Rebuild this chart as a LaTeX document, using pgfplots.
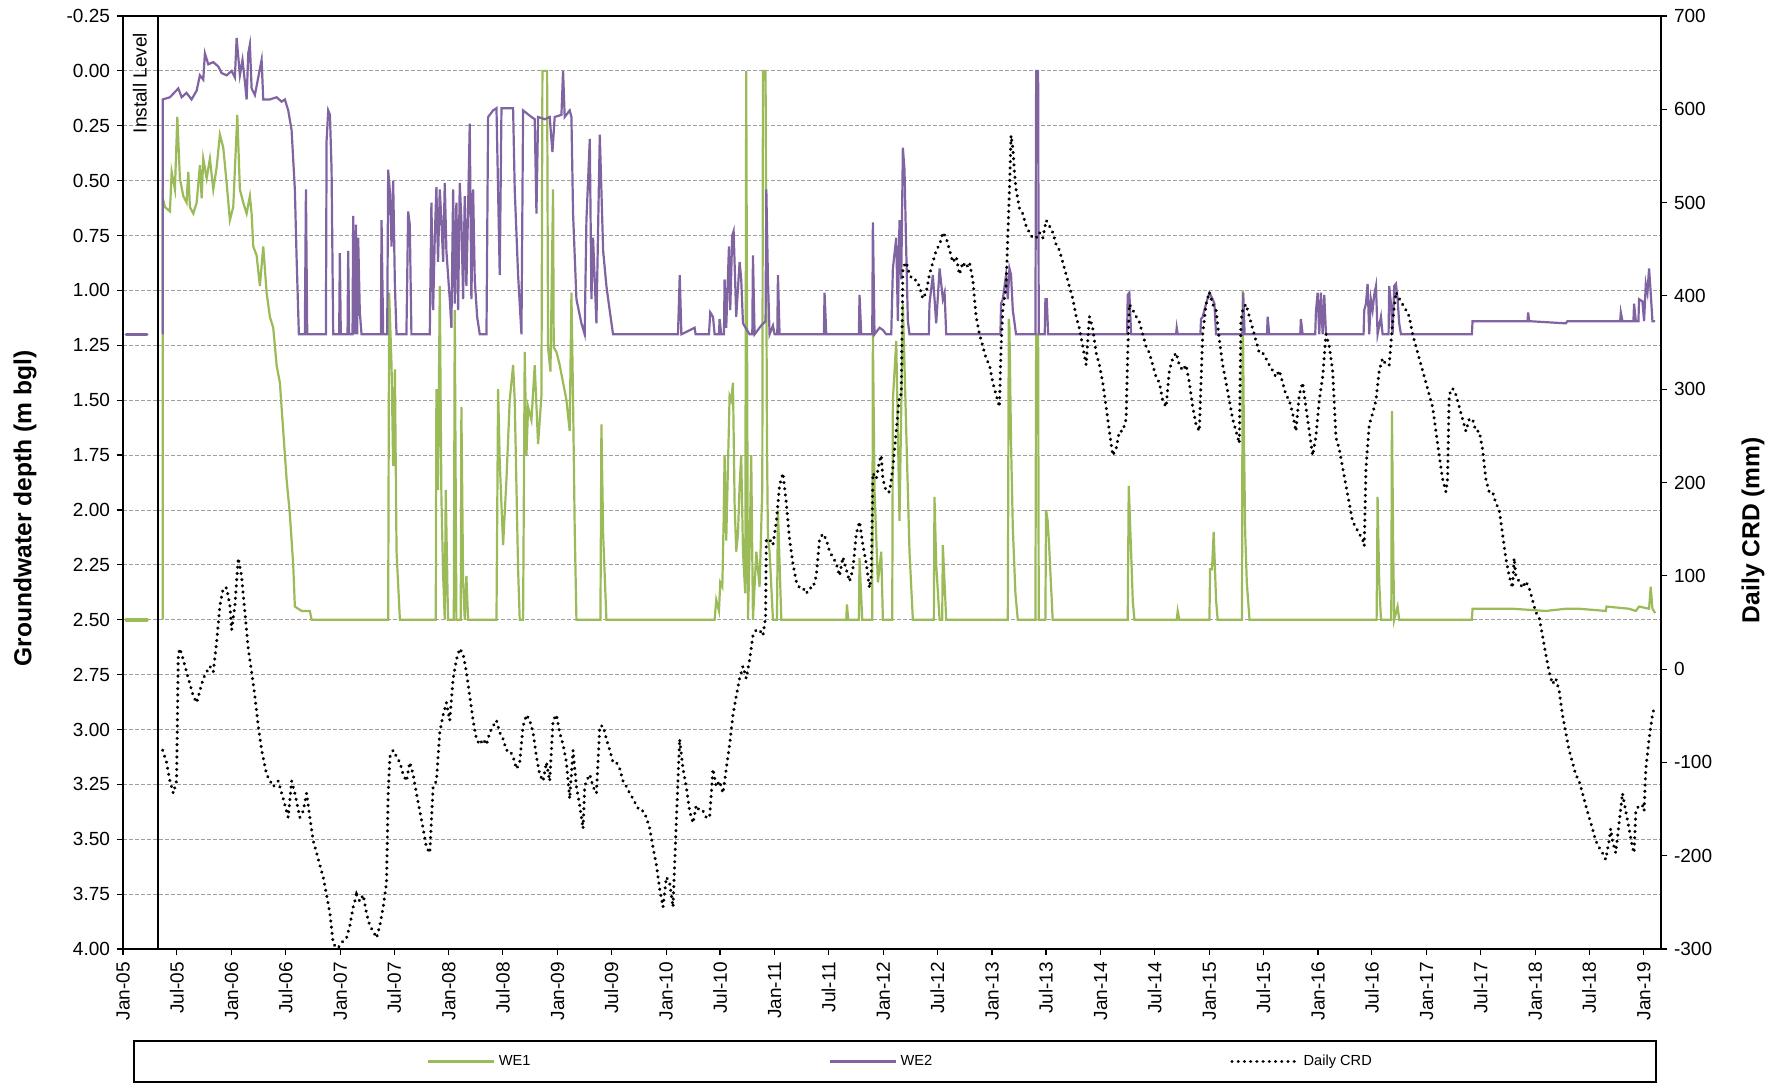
\documentclass[border=0pt]{standalone}
\usepackage{fontspec}
\setmainfont{Liberation Sans}
\usepackage{pgfplots}
\pgfplotsset{compat=1.18}
\definecolor{we1}{RGB}{155,187,89}
\definecolor{we2}{RGB}{128,100,162}
\begin{document}
\begin{tikzpicture}
\pgfplotsset{
  every axis/.append style={
    scale only axis, width=769pt, height=466.5pt,
    xmin=2005, xmax=2019.158,
    tick label style={font=\fontsize{9.5}{11}\selectfont},
    label style={font=\fontsize{12.3}{14}\selectfont\bfseries},
    /pgf/number format/assume math mode=true,
    tick align=outside, major tick length=3pt,
    every tick/.style={black, line width=0.6pt},
    axis line style={line width=1pt},
  },
  crd/.style={black, line width=1.7pt, line cap=round, dash pattern=on 0.01pt off 3.1pt},
}
\begin{axis}[
  y dir=reverse, ymin=-0.25, ymax=4,
  ytick={-0.25,0,0.25,0.5,0.75,1,1.25,1.5,1.75,2,2.25,2.5,2.75,3,3.25,3.5,3.75,4},
  yticklabel style={/pgf/number format/.cd, fixed, fixed zerofill, precision=2},
  ytick pos=left, xtick pos=bottom,
  xtick={2005,2005.496,2006,2006.496,2007,2007.496,2008,2008.496,2009,2009.496,2010,2010.496,2011,2011.496,2012,2012.496,2013,2013.496,2014,2014.496,2015,2015.496,2016,2016.496,2017,2017.496,2018,2018.496,2019},
  xticklabels={Jan-05,Jul-05,Jan-06,Jul-06,Jan-07,Jul-07,Jan-08,Jul-08,Jan-09,Jul-09,Jan-10,Jul-10,Jan-11,Jul-11,Jan-12,Jul-12,Jan-13,Jul-13,Jan-14,Jul-14,Jan-15,Jul-15,Jan-16,Jul-16,Jan-17,Jul-17,Jan-18,Jul-18,Jan-19},
  xticklabel style={rotate=90, anchor=east},
  ymajorgrids, major grid style={gray!75, line width=0.4pt, dash pattern=on 2pt off 1pt},
  ylabel={Groundwater depth (m bgl)},
  ylabel style={at={(axis description cs:-0.0637,0.472)}, anchor=center},
  legend columns=3,
  legend style={draw=none, fill=none, at={(axis description cs:0.506,-0.1206)}, anchor=center,
    font=\fontsize{7.3}{9}\selectfont, /tikz/every even column/.append style={column sep=147pt}},
  legend image code/.code={\draw (0pt,0pt) -- (33pt,0pt);},
]
% install level markers
\addplot[we2, line width=1.8pt, line cap=round, forget plot] coordinates {(2005.03,1.2) (2005.22,1.2)};
\addplot[we1, line width=1.8pt, line cap=round, forget plot] coordinates {(2005.03,2.5) (2005.22,2.5)};
\addplot[black, line width=1pt, forget plot] coordinates {(2005.322,-0.25) (2005.322,4)};
\node[rotate=90, anchor=east, inner sep=0pt, font=\fontsize{9.5}{11}\selectfont] at (axis cs:2005.156,-0.175) {Install Level};

\addplot[we1, line width=1.1pt] table {
2005.365 2.50
2005.366 0.58
2005.386 0.62
2005.432 0.64
2005.448 0.46
2005.478 0.54
2005.500 0.21
2005.524 0.49
2005.555 0.57
2005.585 0.60
2005.601 0.46
2005.616 0.62
2005.647 0.65
2005.678 0.60
2005.708 0.43
2005.724 0.58
2005.739 0.40
2005.770 0.49
2005.800 0.40
2005.831 0.54
2005.862 0.44
2005.892 0.29
2005.923 0.35
2005.954 0.51
2005.984 0.68
2006.015 0.62
2006.052 0.20
2006.076 0.54
2006.107 0.60
2006.138 0.65
2006.168 0.57
2006.184 0.65
2006.199 0.80
2006.230 0.84
2006.260 0.98
2006.291 0.80
2006.322 1.01
2006.352 1.12
2006.383 1.17
2006.414 1.34
2006.444 1.42
2006.475 1.64
2006.506 1.86
2006.536 2.02
2006.567 2.25
2006.582 2.44
2006.644 2.46
2006.720 2.46
2006.736 2.50
2007.441 2.50
2007.450 1.01
2007.472 1.34
2007.487 1.80
2007.503 1.36
2007.518 2.19
2007.549 2.50
2007.879 2.50
2007.885 1.45
2007.900 1.91
2007.916 0.98
2007.931 1.94
2007.947 2.30
2007.962 2.50
2007.971 1.91
2007.992 2.50
2008.045 2.50
2008.054 1.09
2008.069 2.50
2008.109 2.50
2008.115 1.53
2008.131 2.33
2008.146 2.50
2008.161 2.30
2008.177 2.50
2008.438 2.50
2008.453 1.45
2008.468 1.78
2008.499 2.16
2008.530 1.86
2008.560 1.50
2008.591 1.34
2008.606 1.50
2008.637 2.27
2008.652 2.50
2008.683 2.50
2008.698 1.28
2008.714 1.75
2008.729 1.53
2008.760 1.59
2008.790 1.34
2008.821 1.70
2008.852 1.48
2008.861 0.00
2008.904 0.00
2008.913 1.26
2008.935 1.37
2008.959 0.54
2008.965 1.26
2008.990 1.28
2009.020 1.34
2009.051 1.42
2009.082 1.50
2009.112 1.64
2009.128 1.01
2009.143 1.50
2009.158 2.08
2009.174 2.50
2009.395 2.50
2009.404 1.61
2009.420 2.11
2009.450 2.50
2010.446 2.50
2010.461 2.41
2010.486 2.46
2010.498 2.33
2010.517 2.35
2010.529 2.05
2010.538 1.75
2010.553 2.14
2010.569 1.80
2010.584 1.48
2010.599 1.50
2010.615 1.42
2010.630 1.97
2010.645 2.19
2010.661 2.11
2010.676 1.89
2010.691 1.75
2010.707 2.19
2010.728 2.38
2010.737 0.00
2010.753 2.50
2010.768 2.19
2010.783 1.75
2010.799 2.50
2010.830 2.19
2010.860 2.35
2010.885 1.90
2010.891 0.00
2010.915 0.00
2010.928 1.70
2010.937 2.13
2010.952 2.19
2010.983 2.50
2011.020 2.50
2011.029 2.00
2011.060 2.50
2011.658 2.50
2011.664 2.43
2011.676 2.50
2011.774 2.50
2011.780 2.22
2011.805 2.50
2011.897 2.50
2011.903 1.20
2011.918 1.91
2011.949 2.33
2011.980 2.19
2011.995 2.50
2012.081 2.50
2012.087 1.50
2012.118 1.23
2012.148 2.05
2012.179 1.06
2012.210 1.64
2012.240 2.19
2012.271 2.50
2012.464 2.50
2012.470 1.94
2012.486 2.25
2012.517 2.50
2012.541 2.50
2012.547 2.16
2012.578 2.50
2013.145 2.50
2013.154 1.13
2013.160 1.17
2013.175 1.70
2013.191 2.08
2013.215 2.38
2013.237 2.50
2013.399 2.50
2013.406 1.20
2013.424 1.20
2013.430 2.50
2013.491 2.50
2013.497 2.00
2013.512 2.05
2013.528 2.19
2013.558 2.50
2014.249 2.50
2014.258 1.89
2014.280 2.19
2014.295 2.41
2014.310 2.50
2014.700 2.50
2014.709 2.46
2014.724 2.50
2015.001 2.50
2015.007 2.27
2015.025 2.27
2015.040 2.10
2015.062 2.41
2015.077 2.50
2015.301 2.50
2015.307 1.00
2015.318 1.64
2015.330 2.10
2015.345 2.33
2015.370 2.50
2016.540 2.50
2016.549 1.94
2016.564 2.33
2016.580 2.50
2016.675 2.50
2016.681 1.55
2016.693 2.19
2016.702 2.50
2016.733 2.44
2016.748 2.50
2017.417 2.50
2017.423 2.45
2017.791 2.45
2018.097 2.46
2018.282 2.45
2018.404 2.45
2018.650 2.46
2018.656 2.44
2018.864 2.45
2018.926 2.46
2018.956 2.44
2019.048 2.45
2019.063 2.35
2019.079 2.45
2019.104 2.47
};
\addlegendentry{WE1}

\addplot[we2, line width=1.1pt] table {
2005.365 1.20
2005.366 0.13
2005.432 0.12
2005.509 0.08
2005.540 0.12
2005.585 0.10
2005.631 0.13
2005.678 0.09
2005.708 0.02
2005.739 0.04
2005.754 -0.08
2005.785 -0.03
2005.831 -0.04
2005.877 -0.02
2005.908 0.01
2005.954 0.02
2006.000 0.00
2006.030 0.03
2006.046 -0.15
2006.076 0.02
2006.100 -0.05
2006.122 0.05
2006.138 0.13
2006.153 -0.08
2006.168 -0.12
2006.184 0.08
2006.214 0.11
2006.276 -0.05
2006.291 0.13
2006.352 0.13
2006.414 0.12
2006.460 0.14
2006.490 0.13
2006.521 0.18
2006.552 0.27
2006.582 0.54
2006.598 0.85
2006.619 1.20
2006.674 1.20
2006.684 0.54
2006.696 1.20
2006.868 1.20
2006.874 0.32
2006.889 0.18
2006.905 0.20
2006.920 0.45
2006.935 1.20
2006.990 1.20
2006.996 0.83
2007.005 1.20
2007.067 1.20
2007.073 0.82
2007.082 1.20
2007.113 1.20
2007.119 0.66
2007.134 1.20
2007.144 0.70
2007.156 1.20
2007.165 0.76
2007.180 1.10
2007.196 1.20
2007.374 1.20
2007.380 0.68
2007.395 1.20
2007.432 1.20
2007.441 0.45
2007.457 0.55
2007.472 0.80
2007.487 0.50
2007.503 0.98
2007.518 1.20
2007.609 1.20
2007.625 0.64
2007.640 0.70
2007.655 1.20
2007.824 1.20
2007.839 0.60
2007.855 1.09
2007.870 0.76
2007.885 0.53
2007.900 0.87
2007.916 0.54
2007.931 0.68
2007.947 0.87
2007.962 0.51
2007.977 0.82
2008.008 1.04
2008.023 1.17
2008.039 0.54
2008.054 1.06
2008.069 0.60
2008.085 1.09
2008.100 0.51
2008.115 0.68
2008.131 1.04
2008.146 0.57
2008.161 0.98
2008.177 0.62
2008.192 0.24
2008.207 1.04
2008.223 0.54
2008.238 0.95
2008.260 1.12
2008.284 1.20
2008.346 1.20
2008.361 0.21
2008.407 0.18
2008.438 0.17
2008.468 0.93
2008.484 0.17
2008.591 0.17
2008.606 0.54
2008.637 0.93
2008.668 1.20
2008.683 0.18
2008.760 0.21
2008.790 0.22
2008.806 0.65
2008.821 0.21
2008.882 0.22
2008.928 0.21
2008.953 0.37
2008.974 0.21
2009.036 0.20
2009.051 0.00
2009.066 0.21
2009.112 0.18
2009.128 0.21
2009.143 0.65
2009.174 1.04
2009.220 1.15
2009.250 1.20
2009.266 0.68
2009.297 0.31
2009.312 1.04
2009.327 0.76
2009.358 1.15
2009.389 0.29
2009.420 0.82
2009.450 0.98
2009.480 1.09
2009.511 1.20
2010.109 1.20
2010.125 0.93
2010.140 1.20
2010.262 1.17
2010.271 1.20
2010.394 1.20
2010.406 1.10
2010.431 1.12
2010.446 1.20
2010.486 1.20
2010.492 1.13
2010.507 1.20
2010.532 1.20
2010.538 0.95
2010.553 1.17
2010.578 0.80
2010.590 1.09
2010.608 0.75
2010.621 0.73
2010.645 1.12
2010.676 0.87
2010.691 0.95
2010.707 1.15
2010.768 1.20
2010.793 1.20
2010.799 0.84
2010.814 1.20
2010.875 1.16
2010.915 1.14
2010.922 0.54
2010.937 0.95
2010.952 1.20
2010.983 1.16
2010.998 1.20
2011.023 1.20
2011.029 0.93
2011.044 1.20
2011.452 1.20
2011.458 1.01
2011.474 1.20
2011.774 1.20
2011.780 1.02
2011.796 1.20
2011.897 1.20
2011.903 0.69
2011.918 1.20
2011.964 1.17
2011.995 1.18
2012.026 1.20
2012.072 1.20
2012.087 0.90
2012.118 0.76
2012.133 1.14
2012.148 0.68
2012.164 0.95
2012.179 0.35
2012.194 0.45
2012.210 0.82
2012.225 1.14
2012.240 1.20
2012.418 1.20
2012.424 1.06
2012.455 0.93
2012.486 1.15
2012.517 0.90
2012.547 1.04
2012.563 1.01
2012.578 1.20
2013.077 1.20
2013.083 1.06
2013.099 1.04
2013.129 0.93
2013.145 1.04
2013.160 0.90
2013.175 0.93
2013.191 1.09
2013.221 1.20
2013.399 1.20
2013.406 0.00
2013.424 0.00
2013.430 1.20
2013.485 1.20
2013.491 1.04
2013.504 1.04
2013.516 1.20
2014.243 1.20
2014.249 1.02
2014.264 1.01
2014.280 1.20
2014.694 1.20
2014.700 1.17
2014.709 1.20
2014.918 1.20
2014.924 1.13
2014.939 1.12
2014.970 1.06
2015.001 1.01
2015.031 1.04
2015.047 1.06
2015.062 1.20
2015.306 1.20
2015.312 1.01
2015.325 1.20
2015.531 1.20
2015.537 1.12
2015.552 1.20
2015.837 1.20
2015.843 1.13
2015.859 1.20
2015.975 1.20
2015.981 1.10
2015.997 1.01
2016.012 1.20
2016.027 1.01
2016.043 1.20
2016.058 1.02
2016.074 1.20
2016.420 1.20
2016.426 1.09
2016.442 1.06
2016.457 0.97
2016.472 1.20
2016.487 1.04
2016.503 1.09
2016.518 1.02
2016.534 0.98
2016.549 1.20
2016.580 1.12
2016.595 1.20
2016.650 1.20
2016.656 0.98
2016.672 1.06
2016.687 1.20
2016.702 0.98
2016.718 0.97
2016.733 1.04
2016.748 1.15
2016.764 1.20
2017.417 1.20
2017.423 1.14
2017.929 1.14
2017.935 1.10
2017.944 1.14
2018.282 1.15
2018.297 1.14
2018.782 1.14
2018.788 1.10
2018.803 1.14
2018.904 1.14
2018.910 1.06
2018.926 1.14
2018.950 1.14
2018.956 1.04
2018.987 1.05
2019.002 1.14
2019.018 0.97
2019.033 1.01
2019.048 0.90
2019.063 1.01
2019.079 1.14
2019.104 1.14
};
\addlegendentry{WE2}
\addlegendimage{crd}
\addlegendentry{Daily CRD}
\end{axis}

\begin{axis}[
  ymin=-300, ymax=700,
  ytick={-300,-200,-100,0,100,200,300,400,500,600,700},
  axis y line*=right, axis x line=none,
  ylabel={Daily CRD (mm)},
  ylabel style={at={(axis description cs:1.0598,0.449)}, anchor=center, rotate=0},
]
\addplot[crd] table {
2005.365 -87
2005.401 -100
2005.432 -120
2005.463 -133
2005.493 -120
2005.509 16
2005.524 22
2005.555 10
2005.585 -3
2005.616 -16
2005.647 -29
2005.678 -36
2005.708 -23
2005.739 -10
2005.770 -3
2005.800 3
2005.831 -3
2005.862 29
2005.892 68
2005.923 87
2005.954 87
2005.984 68
2006.000 42
2006.030 68
2006.061 119
2006.091 100
2006.122 61
2006.153 22
2006.184 -3
2006.214 -29
2006.245 -61
2006.276 -87
2006.322 -113
2006.383 -126
2006.429 -120
2006.475 -139
2006.521 -159
2006.552 -120
2006.582 -133
2006.628 -159
2006.659 -152
2006.690 -133
2006.720 -159
2006.751 -184
2006.782 -197
2006.812 -210
2006.843 -223
2006.874 -242
2006.905 -262
2006.935 -294
2006.966 -299
2006.996 -297
2007.027 -291
2007.058 -288
2007.088 -275
2007.119 -255
2007.150 -242
2007.180 -249
2007.211 -242
2007.242 -262
2007.272 -275
2007.303 -281
2007.334 -288
2007.364 -275
2007.395 -255
2007.426 -229
2007.441 -133
2007.457 -94
2007.487 -87
2007.518 -94
2007.549 -100
2007.579 -113
2007.609 -120
2007.640 -100
2007.671 -113
2007.701 -133
2007.732 -152
2007.763 -171
2007.793 -191
2007.824 -197
2007.855 -126
2007.885 -120
2007.916 -68
2007.947 -49
2007.977 -36
2008.008 -55
2008.039 -10
2008.069 10
2008.100 22
2008.131 16
2008.161 -3
2008.192 -29
2008.223 -55
2008.254 -75
2008.284 -81
2008.315 -75
2008.346 -81
2008.376 -68
2008.407 -61
2008.438 -55
2008.468 -68
2008.499 -75
2008.530 -87
2008.560 -87
2008.591 -94
2008.622 -107
2008.652 -100
2008.683 -61
2008.714 -49
2008.744 -55
2008.775 -68
2008.806 -94
2008.836 -113
2008.867 -120
2008.898 -100
2008.928 -120
2008.959 -55
2008.990 -49
2009.020 -68
2009.051 -81
2009.082 -100
2009.112 -139
2009.143 -87
2009.174 -126
2009.204 -146
2009.235 -171
2009.250 -126
2009.266 -120
2009.297 -113
2009.327 -126
2009.358 -133
2009.389 -61
2009.420 -61
2009.450 -75
2009.481 -87
2009.511 -100
2009.542 -100
2009.573 -107
2009.603 -120
2009.634 -126
2009.665 -133
2009.695 -139
2009.726 -146
2009.757 -152
2009.787 -152
2009.818 -159
2009.849 -171
2009.879 -191
2009.910 -210
2009.941 -236
2009.971 -255
2010.002 -223
2010.032 -229
2010.063 -255
2010.093 -165
2010.124 -75
2010.155 -107
2010.185 -126
2010.216 -152
2010.247 -165
2010.277 -146
2010.308 -152
2010.339 -152
2010.369 -159
2010.400 -159
2010.431 -107
2010.461 -126
2010.492 -120
2010.523 -133
2010.553 -107
2010.584 -81
2010.615 -49
2010.645 -29
2010.676 -10
2010.707 3
2010.737 -10
2010.768 10
2010.799 36
2010.829 42
2010.860 42
2010.891 36
2010.915 55
2010.922 139
2010.952 139
2010.983 133
2011.014 158
2011.044 197
2011.075 210
2011.106 178
2011.136 139
2011.167 113
2011.198 94
2011.228 87
2011.259 87
2011.290 81
2011.320 87
2011.351 87
2011.382 100
2011.412 139
2011.443 145
2011.474 139
2011.504 126
2011.535 120
2011.566 113
2011.596 100
2011.627 120
2011.658 107
2011.688 94
2011.719 107
2011.750 145
2011.780 158
2011.811 133
2011.842 113
2011.872 87
2011.888 100
2011.903 210
2011.934 204
2011.964 223
2011.980 229
2011.995 204
2012.026 190
2012.057 190
2012.087 216
2012.118 255
2012.148 294
2012.164 294
2012.179 430
2012.210 436
2012.240 423
2012.271 417
2012.302 417
2012.332 410
2012.363 397
2012.394 404
2012.424 423
2012.455 436
2012.486 449
2012.517 455
2012.547 468
2012.578 462
2012.609 449
2012.639 436
2012.670 442
2012.700 423
2012.731 436
2012.761 430
2012.792 436
2012.823 417
2012.853 378
2012.884 359
2012.915 346
2012.945 333
2012.976 326
2013.007 307
2013.037 294
2013.068 281
2013.083 346
2013.099 385
2013.129 410
2013.160 514
2013.175 572
2013.191 559
2013.206 533
2013.221 514
2013.252 494
2013.283 488
2013.313 475
2013.344 468
2013.375 462
2013.406 462
2013.436 468
2013.467 462
2013.498 481
2013.528 475
2013.559 468
2013.590 455
2013.620 449
2013.651 436
2013.682 423
2013.712 410
2013.743 397
2013.774 378
2013.804 365
2013.835 346
2013.866 326
2013.896 378
2013.927 365
2013.958 339
2013.988 326
2014.019 307
2014.050 281
2014.080 255
2014.111 229
2014.142 236
2014.172 255
2014.203 255
2014.234 268
2014.249 339
2014.264 391
2014.295 385
2014.326 378
2014.356 372
2014.387 359
2014.418 346
2014.448 339
2014.479 326
2014.510 313
2014.540 307
2014.571 288
2014.602 281
2014.632 320
2014.663 333
2014.694 339
2014.724 326
2014.755 320
2014.786 326
2014.816 307
2014.847 281
2014.878 262
2014.908 255
2014.939 359
2014.970 391
2015.000 404
2015.031 391
2015.062 385
2015.093 352
2015.123 326
2015.154 307
2015.184 288
2015.215 268
2015.246 255
2015.276 242
2015.291 372
2015.307 385
2015.337 391
2015.368 378
2015.399 365
2015.429 352
2015.460 339
2015.491 339
2015.521 333
2015.552 326
2015.583 320
2015.613 313
2015.644 320
2015.675 307
2015.705 294
2015.736 288
2015.767 274
2015.797 255
2015.828 294
2015.859 307
2015.889 281
2015.920 255
2015.951 229
2015.981 249
2016.012 288
2016.043 313
2016.074 359
2016.104 346
2016.135 320
2016.166 248
2016.196 236
2016.227 216
2016.257 197
2016.288 178
2016.319 158
2016.349 152
2016.380 145
2016.411 139
2016.426 132
2016.442 216
2016.472 262
2016.503 274
2016.534 288
2016.564 320
2016.595 333
2016.626 326
2016.656 326
2016.687 372
2016.718 404
2016.748 397
2016.779 391
2016.809 385
2016.840 378
2016.871 359
2016.902 346
2016.932 333
2016.963 320
2016.994 307
2017.024 294
2017.055 281
2017.086 255
2017.116 229
2017.147 204
2017.178 190
2017.193 204
2017.208 294
2017.239 301
2017.270 294
2017.301 281
2017.331 268
2017.362 255
2017.393 268
2017.423 268
2017.454 255
2017.484 255
2017.515 236
2017.545 204
2017.576 190
2017.607 190
2017.637 178
2017.668 171
2017.699 145
2017.729 119
2017.760 100
2017.791 87
2017.806 119
2017.821 100
2017.852 94
2017.883 87
2017.913 94
2017.944 87
2017.975 74
2018.005 61
2018.036 55
2018.067 36
2018.097 16
2018.128 -3
2018.159 -16
2018.189 -10
2018.220 -23
2018.251 -49
2018.281 -68
2018.312 -87
2018.343 -100
2018.373 -113
2018.404 -120
2018.435 -133
2018.465 -146
2018.496 -159
2018.527 -171
2018.557 -184
2018.588 -191
2018.619 -197
2018.649 -204
2018.680 -184
2018.695 -171
2018.711 -184
2018.741 -197
2018.772 -165
2018.803 -133
2018.833 -152
2018.864 -171
2018.895 -191
2018.910 -197
2018.926 -152
2018.956 -146
2018.987 -146
2019.002 -152
2019.018 -107
2019.048 -75
2019.079 -49
2019.094 -42
};
\end{axis}
\draw[line width=1pt] (5.5pt,-46pt) rectangle (766.5pt,-66.5pt);
\pgfresetboundingbox
\path (-61.5pt,-67pt) rectangle (826pt,474.5pt);
\end{tikzpicture}
\end{document}
